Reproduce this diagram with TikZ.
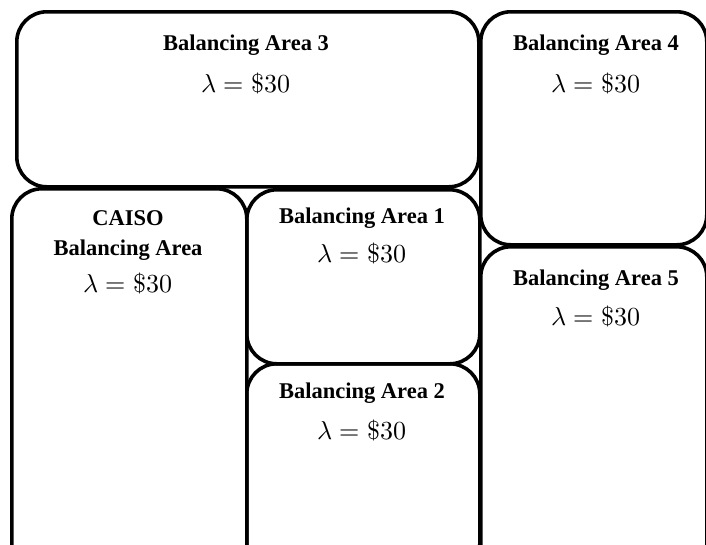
\documentclass[tikz,border=0pt]{standalone}
\usepackage{fontspec}
\usepackage{unicode-math}
\setmainfont{Liberation Serif}
\setmathfont{Latin Modern Math}
\usetikzlibrary{positioning}

\begin{document}
\begin{tikzpicture}[x=1pt,y=-1pt,
  areabox/.style={draw=black, line width=3.6pt, rounded corners=30pt, anchor=north west, inner sep=0pt},
  areaname/.style={font=\fontsize{22.5}{30}\selectfont\bfseries, align=center, anchor=center},
  price/.style={font=\fontsize{26}{30}\selectfont, anchor=center}]
\clip (0,0) rectangle (706,544);

% the six balancing areas
\node[areabox, minimum width=462pt, minimum height=175pt] (ba3) at (15,10) {};
\node[areabox, minimum width=226pt, minimum height=233pt] (ba4) at (479,10) {};
\node[areabox, minimum width=226pt, minimum height=330pt] (ba5) at (479,245) {};
\node[areabox, minimum width=235pt, minimum height=390pt] (caiso) at (10,187) {};
\node[areabox, minimum width=233pt, minimum height=174pt] (ba1) at (245,188) {};
\node[areabox, minimum width=233pt, minimum height=210pt] (ba2) at (245,362) {};

% names and prices
\node[areaname] (ba3name) at (246,45) {Balancing Area 3};
\node[price] (ba3price) at (246,83) {$\lambda = \$30$};
\node[areaname] (ba4name) at (596,45) {Balancing Area 4};
\node[price] (ba4price) at (596,83) {$\lambda = \$30$};
\node[areaname] (ba5name) at (596,280) {Balancing Area 5};
\node[price] (ba5price) at (596,316) {$\lambda = \$30$};
\node[areaname] (caisoname) at (128,236) {CAISO\\Balancing Area};
\node[price] (caisoprice) at (128,283) {$\lambda = \$30$};
\node[areaname] (ba1name) at (362,218) {Balancing Area 1};
\node[price] (ba1price) at (362,253) {$\lambda = \$30$};
\node[areaname] (ba2name) at (362,393) {Balancing Area 2};
\node[price] (ba2price) at (362,430) {$\lambda = \$30$};
\end{tikzpicture}
\end{document}
